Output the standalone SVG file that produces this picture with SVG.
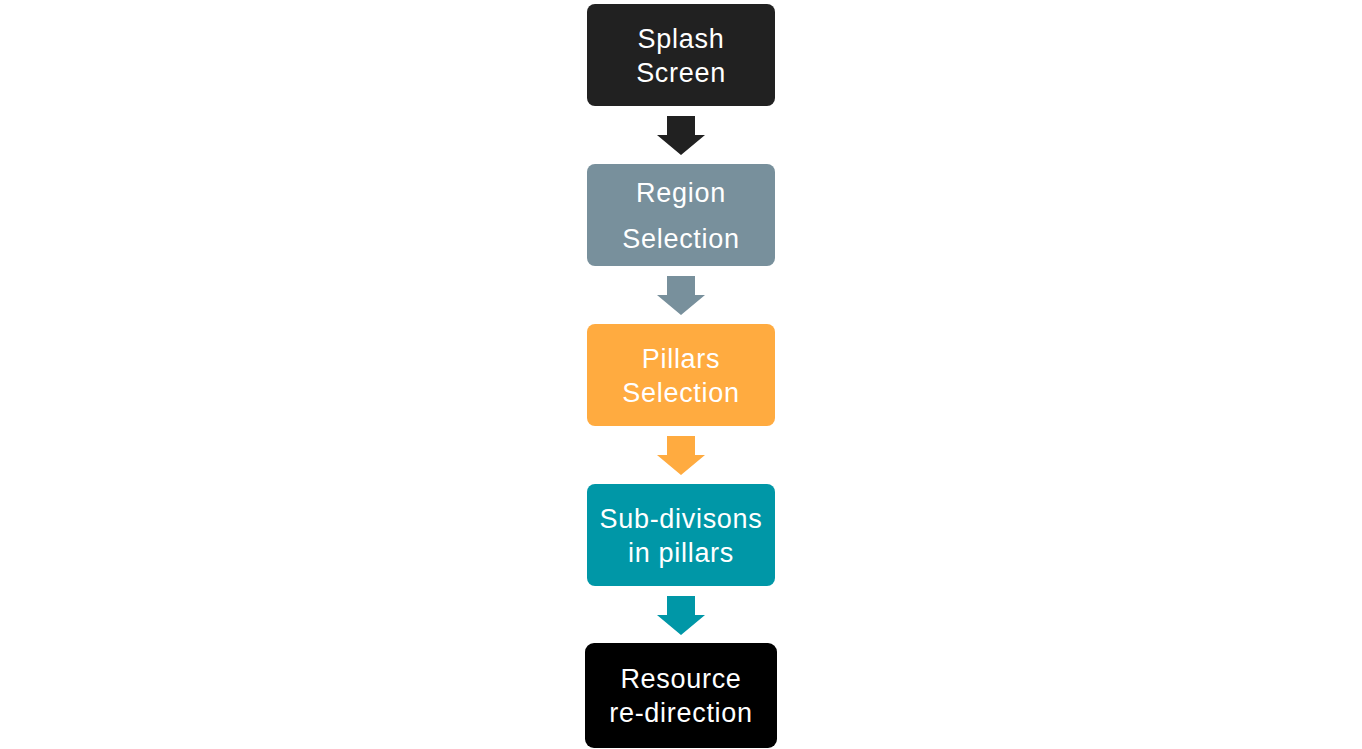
<svg xmlns="http://www.w3.org/2000/svg" width="1362" height="749" viewBox="0 0 1362 749">
<style>
.t{font-family:"Liberation Sans",Arial,sans-serif;font-size:27px;letter-spacing:0.7px;fill:#ffffff;text-anchor:middle}
</style>
<rect width="1362" height="749" fill="#ffffff"/>
<g id="connectors">
<polygon fill="#212121" points="667,116 695,116 695,135 705,135 681,155 657,135 667,135"/>
<polygon fill="#78909C" points="667,276 695,276 695,295 705,295 681,315 657,295 667,295"/>
<polygon fill="#FFAB40" points="667,436 695,436 695,455 705,455 681,475 657,455 667,455"/>
<polygon fill="#0097A7" points="667,596 695,596 695,615 705,615 681,635 657,615 667,615"/>
</g>
<g id="splash">
<rect x="587" y="4" width="188" height="102" rx="8" fill="#212121"/>
<text class="t" x="681" y="48">Splash</text>
<text class="t" x="681" y="82">Screen</text>
</g>
<g id="region">
<rect x="587" y="164" width="188" height="102" rx="8" fill="#78909C"/>
<text class="t" x="681" y="202">Region</text>
<text class="t" x="681" y="248">Selection</text>
</g>
<g id="pillars">
<rect x="587" y="324" width="188" height="102" rx="8" fill="#FFAB40"/>
<text class="t" x="681" y="368">Pillars</text>
<text class="t" x="681" y="402">Selection</text>
</g>
<g id="subdivisions">
<rect x="587" y="484" width="188" height="102" rx="8" fill="#0097A7"/>
<text class="t" x="681" y="528">Sub-divisons</text>
<text class="t" x="681" y="562">in pillars</text>
</g>
<g id="resource">
<rect x="585" y="643" width="192" height="105" rx="9" fill="#000000"/>
<text class="t" x="681" y="688">Resource</text>
<text class="t" x="681" y="722">re-direction</text>
</g>
</svg>
